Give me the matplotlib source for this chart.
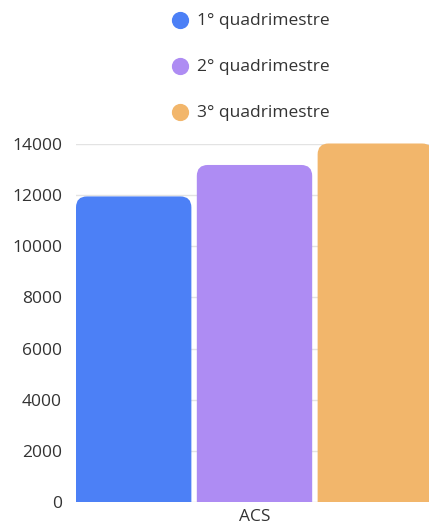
import matplotlib.pyplot as plt
from matplotlib.path import Path
from matplotlib.patches import PathPatch

# data
categoria = ["ACS"]
series = ["1° quadrimestre", "2° quadrimestre", "3° quadrimestre"]
valores = [11950, 13180, 14020]
cores = ["#4c80f6", "#ae8cf3", "#f2b66b"]
yticks = [0, 2000, 4000, 6000, 8000, 10000, 12000, 14000]

plt.rcParams['font.family'] = ['Open Sans', 'DejaVu Sans']

W, H = 429, 525
fig = plt.figure(figsize=(W / 100, H / 100), dpi=100)
# axes run a little past the right edge, like the original crop
ax = fig.add_axes([76 / W, (H - 502) / H, (433 - 76) / W, (502 - 144) / H])

bw = 0.955
pos = [-1, 0, 1]
ax.set_xlim(-1 - bw / 2, 1 + bw / 2)
ax.set_ylim(0, 14000)

# pixel -> data conversions for the corner radius
ax_w_px = 433 - 76
ax_h_px = 502 - 144
rpx = 11
rx = rpx * (ax.get_xlim()[1] - ax.get_xlim()[0]) / ax_w_px
ry = rpx * 14000 / ax_h_px


def rounded_top(x0, w, h):
    x1 = x0 + w
    verts = [(x0, 0), (x0, h - ry), (x0, h), (x0 + rx, h),
             (x1 - rx, h), (x1, h), (x1, h - ry), (x1, 0), (x0, 0)]
    codes = [Path.MOVETO, Path.LINETO, Path.CURVE3, Path.CURVE3,
             Path.LINETO, Path.CURVE3, Path.CURVE3, Path.LINETO, Path.CLOSEPOLY]
    return Path(verts, codes)


for p, v, c, s in zip(pos, valores, cores, series):
    ax.add_patch(PathPatch(rounded_top(p - bw / 2, bw, v), facecolor=c,
                           edgecolor='none', zorder=3, clip_on=False))
    # legend proxy
    ax.scatter([], [], s=130, color=c, label=s)

ax.set_yticks(yticks)
ax.set_yticklabels([str(t) for t in yticks])
ax.set_xticks([0])
ax.set_xticklabels(categoria)
ax.tick_params(axis='y', length=0, pad=10, labelsize=12.5, labelcolor='#333333')
ax.tick_params(axis='x', length=0, pad=5, labelsize=12.5, labelcolor='#333333')
ax.grid(axis='y', color='#e3e3e3', linewidth=1, zorder=0)
for sp in ax.spines.values():
    sp.set_visible(False)

leg = fig.legend(loc='upper left', bbox_to_anchor=(147 / W, 1 + 3 / H),
                 frameon=False, fontsize=12.5, labelspacing=1.72,
                 handletextpad=0.0, labelcolor='#333333')

fig.savefig("out.png", dpi=100)
